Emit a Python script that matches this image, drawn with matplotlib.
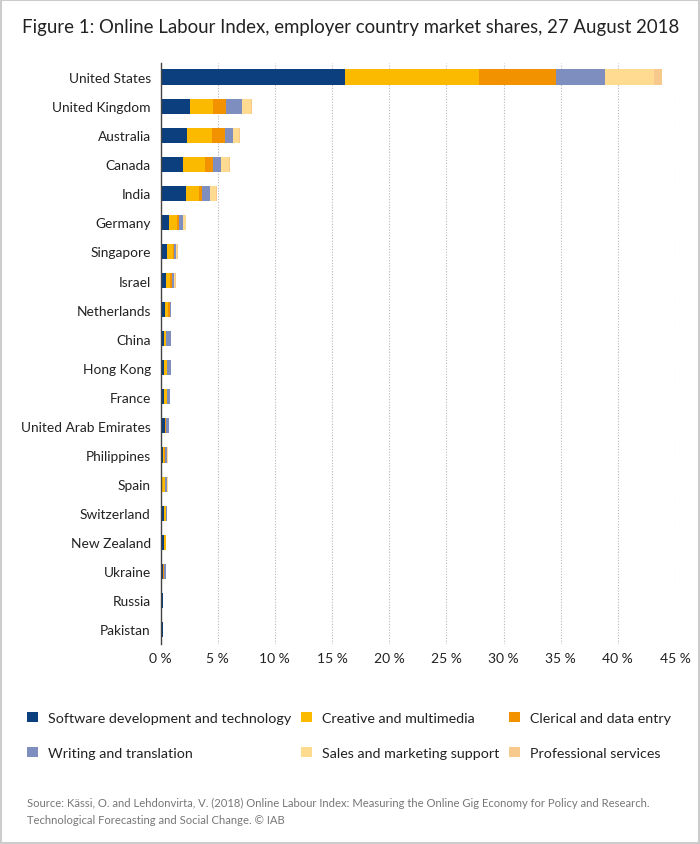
import matplotlib
matplotlib.use("Agg")
import matplotlib.pyplot as plt
from matplotlib.patches import Rectangle, Patch
from matplotlib.ticker import FuncFormatter
import numpy as np

plt.rcParams['font.family'] = ['Lato', 'DejaVu Sans']

# --- data (market share in %) ---
countries = ["United States", "United Kingdom", "Australia", "Canada", "India",
             "Germany", "Singapore", "Israel", "Netherlands", "China",
             "Hong Kong", "France", "United Arab Emirates", "Philippines", "Spain",
             "Switzerland", "New Zealand", "Ukraine", "Russia", "Pakistan"]

software = [16.1, 2.6, 2.3, 2.0, 2.2, 0.7, 0.6, 0.5, 0.35, 0.3,
            0.3, 0.3, 0.35, 0.2, 0.05, 0.3, 0.3, 0.2, 0.25, 0.25]
creative = [11.8, 2.0, 2.2, 1.85, 1.2, 0.75, 0.45, 0.35, 0.3, 0.15,
            0.25, 0.25, 0.05, 0.1, 0.3, 0.15, 0.15, 0.05, 0.0, 0.0]
clerical = [6.7, 1.1, 1.1, 0.7, 0.2, 0.15, 0.1, 0.15, 0.15, 0.05,
            0.05, 0.05, 0.05, 0.1, 0.05, 0.05, 0.05, 0.05, 0.0, 0.0]
writing = [4.3, 1.4, 0.7, 0.75, 0.75, 0.35, 0.2, 0.2, 0.1, 0.4,
           0.3, 0.2, 0.25, 0.2, 0.2, 0.05, 0.0, 0.2, 0.0, 0.0]
sales = [4.3, 0.8, 0.6, 0.7, 0.5, 0.25, 0.1, 0.1, 0.05, 0.05,
         0.05, 0.05, 0.05, 0.05, 0.05, 0.0, 0.0, 0.0, 0.0, 0.0]
professional = [0.7, 0.1, 0.05, 0.05, 0.05, 0.05, 0.05, 0.05, 0.0, 0.0,
                0.0, 0.0, 0.0, 0.0, 0.0, 0.0, 0.0, 0.0, 0.0, 0.0]

categories = ["Software development and technology", "Creative and multimedia",
              "Clerical and data entry", "Writing and translation",
              "Sales and marketing support", "Professional services"]
series = [software, creative, clerical, writing, sales, professional]
colors = ["#0b3f7e", "#fbba00", "#f39200", "#7d8ebf", "#fedb90", "#f8c98c"]

xticks = [0, 5, 10, 15, 20, 25, 30, 35, 40, 45]

fig = plt.figure(figsize=(7, 8.45), dpi=100)
ax = fig.add_axes([160.5 / 700, 1 - 645 / 845, 514.5 / 700, (645 - 63.5) / 845])

y = np.arange(len(countries))
left = np.zeros(len(countries))
for vals, col in zip(series, colors):
    ax.barh(y, vals, left=left, height=0.52, color=col, linewidth=0, zorder=3)
    left += np.array(vals)

ax.set_xlim(0, 45)
ax.set_ylim(-0.5, len(countries) - 0.5)
ax.invert_yaxis()
ax.set_yticks(y)
ax.set_yticklabels(countries, fontsize=9.9, color="#222222")
ax.set_xticks(xticks)
ax.xaxis.set_major_formatter(FuncFormatter(lambda v, p: f"{v:.0f} %"))
ax.tick_params(axis="both", length=0, labelsize=10, colors="#222222")
ax.tick_params(axis="y", pad=7, labelsize=9.9)
ax.tick_params(axis="x", pad=6)
ax.grid(axis="x", color="#b8b8b8", linewidth=0.8, linestyle=(0, (1, 1.5)), zorder=0)
for s in ["top", "right", "bottom"]:
    ax.spines[s].set_visible(False)
ax.spines["left"].set_color("#444444")
ax.spines["left"].set_linewidth(1.0)
ax.spines["left"].set_zorder(4)

# title
fig.text(22 / 700, 1 - 28 / 845, "Figure 1: Online Labour Index, employer country market shares, 27 August 2018",
         fontsize=13.4, color="#222222", ha="left", va="center")

# legend: column-major fill so rows read like the reference
order = [0, 3, 1, 4, 2, 5]
handles = [Patch(facecolor=colors[i], edgecolor="none") for i in order]
labels = [categories[i] for i in order]
fig.legend(handles, labels, ncol=3, loc="upper left",
           bbox_to_anchor=(14 / 700, 1 - 700 / 845), frameon=False,
           fontsize=10.3, handlelength=0.75, handleheight=0.75,
           handletextpad=0.7, columnspacing=0.7, labelspacing=1.6,
           labelcolor="#222222")

# source
fig.text(27 / 700, 1 - 803 / 845,
         "Source: Kässi, O. and Lehdonvirta, V. (2018) Online Labour Index: Measuring the Online Gig Economy for Policy and Research.",
         fontsize=8.1, color="#777777", ha="left", va="center")
fig.text(27 / 700, 1 - 821 / 845,
         "Technological Forecasting and Social Change. © IAB",
         fontsize=8.1, color="#777777", ha="left", va="center")

# outer frame
fig.add_artist(Rectangle((0.001, 0.001), 0.998, 0.998, transform=fig.transFigure,
                         fill=False, edgecolor="#cccccc", linewidth=1.5))

fig.savefig("out.png", dpi=100)
